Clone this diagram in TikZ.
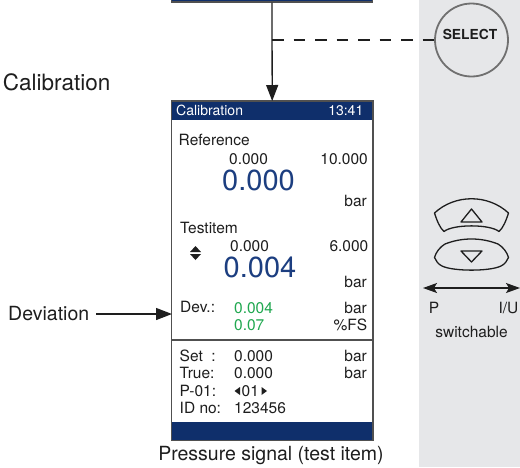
\documentclass[tikz,border=0pt]{standalone}
\usepackage{fontspec}
\setmainfont{TeX Gyre Heros}
\usetikzlibrary{arrows.meta}

\definecolor{panelgray}{RGB}{230,231,233}
\definecolor{barnavy}{RGB}{15,47,107}
\definecolor{bignum}{RGB}{28,62,128}
\definecolor{devgreen}{RGB}{32,168,80}
\definecolor{framegray}{RGB}{80,80,80}
\definecolor{ink}{RGB}{30,30,30}
\definecolor{ringgray}{RGB}{112,112,112}

\newcommand\fsz[1]{\fontsize{#1}{#1}\selectfont}

\begin{document}
\begin{tikzpicture}[x=1pt,y=-1pt,
  lbl/.style={inner sep=0pt, anchor=base west, text=ink, font=\fsz{15.5}},
  lblr/.style={lbl, anchor=base east},
  bignr/.style={inner sep=0pt, anchor=base west, text=bignum, font=\fsz{29}},
  grn/.style={lbl, text=devgreen},
  caption/.style={inner sep=0pt, text=ink, font=\fsz{19.5}},
  bartext/.style={inner sep=0pt, text=white, font=\fsz{14}},
  arr/.style={line width=1.3pt, draw=ink, -{Triangle[length=16pt,width=12pt]}},
  dualarr/.style={line width=1.3pt, draw=ink, {Stealth[length=14pt,width=10pt,inset=3pt]}-{Stealth[length=14pt,width=10pt,inset=3pt]}},
  dashline/.style={line width=1.3pt, draw=ink, dash pattern=on 11.5pt off 10pt},
  btn/.style={line width=1.3pt, draw=ink, line join=round},
]
\useasboundingbox (0,0) rectangle (520,467);
\fill[white] (0,0) rectangle (520,467);

% key panel on the right
\fill[panelgray] (419,0) rectangle (520,467);

% previous screen (bottom edge only)
\node[draw=framegray, line width=1.5pt, fill=barnavy, minimum width=201pt,
      minimum height=12pt, inner sep=0pt, anchor=south] (prev) at (272,2.5) {};

% calibration screen
\node[fill=white, minimum width=201pt, minimum height=339pt, inner sep=0pt,
      anchor=north west] (scr) at (171.5,101) {};
\fill[barnavy] (scr.north west) rectangle (372.5,120);
\fill[barnavy] (171.5,421.5) rectangle (scr.south east);
\draw[framegray, line width=1.5pt] (171.5,340) -- (372.5,340);
\draw[framegray, line width=1.5pt] (scr.north west) rectangle (scr.south east);

\node[bartext, anchor=base west] (ttl) at (176,115.3) {Calibration};
\node[bartext, anchor=base east] (clk) at (363.5,115.3) {13:41};

% reference channel
\node[lbl] (refl) at (178.5,145.5) {Reference};
\node[lbl] (refmin) at (229,164.3) {0.000};
\node[lblr] (refmax) at (368,164.3) {10.000};
\node[bignr] (refval) at (222,190) {0.000};
\node[lblr] (refunit) at (367,206) {bar};

% test item channel
\node[lbl] (testl) at (180,233.3) {Testitem};
\fill[ink] (190,252) -- (201,252) -- (195.5,246) -- cycle;
\fill[ink] (190,254) -- (201,254) -- (195.5,260) -- cycle;
\node[lbl] (testmin) at (230,251.7) {0.000};
\node[lblr] (testmax) at (368.5,251.7) {6.000};
\node[bignr] (testval) at (223.5,277.3) {0.004};
\node[lblr] (testunit) at (367,287) {bar};

% deviation
\node[lbl] (devl) at (180,312) {Dev.:};
\node[grn] (devabs) at (234,313) {0.004};
\node[lblr] (devunit) at (367,313) {bar};
\node[grn] (devrel) at (234,330) {0.07};
\node[lblr] (devfs) at (367.5,330) {\%FS};

% status block
\node[lbl] (setl) at (179.5,361.7) {Set\ \ :};
\node[lbl] (setv) at (234,361.7) {0.000};
\node[lblr] (setu) at (367,361.7) {bar};
\node[lbl] (truel) at (179.5,378.3) {True:};
\node[lbl] (truev) at (234,378.3) {0.000};
\node[lblr] (trueu) at (367,378.3) {bar};
\node[lbl] (pl) at (179.5,396.7) {P-01:};
\fill[ink] (234.5,391) -- (240,387) -- (240,395) -- cycle;
\node[lbl] (pv) at (241.5,396.7) {01};
\fill[ink] (267,391) -- (261.5,387) -- (261.5,395) -- cycle;
\node[lbl] (idl) at (179.5,413.3) {ID no:};
\node[lbl] (idv) at (234,413.3) {123456};

% captions
\node[caption, font=\fsz{22.5}, anchor=base east] (calcap) at (110.5,90) {Calibration};
\node[caption, anchor=base west] (devcap) at (8,320.7) {Deviation};
\node[caption, anchor=base] (sigcap) at (271,460) {Pressure signal (test item)};

% connectors
\coordinate (devtip) at (172,314);
\draw[arr, shorten <=7pt] (devcap.east |- devtip) -- (devtip);
\draw[arr] (prev.south) -- (scr.north);

% SELECT key
\node[circle, draw=ringgray, line width=1.8pt, minimum size=73pt, inner sep=0pt] (sel) at (471.5,40) {};
\node[inner sep=0pt, text=ink, font=\fsz{13.8}\bfseries] (selt) at (470,34) {SELECT};
\coordinate (junc) at (272,40);
\draw[dashline] (junc) -- (sel.west);

% up/down rocker keys
\draw[btn] (434.5,213) .. controls (455,194) and (488,194) .. (508.5,213)
  .. controls (506,221) and (503,228) .. (499,231.5)
  .. controls (490,224) and (453,224) .. (444,231.5)
  .. controls (440,228) and (437,221) .. (434.5,213) -- cycle;
\draw[btn] (461,222) -- (482,222) -- (471.5,209) -- cycle;

\draw[btn] (445,244) .. controls (462,237.3) and (481,237.3) .. (498,244)
  .. controls (503,247) and (507,252) .. (508.5,257.5)
  .. controls (507,261) and (505,264) .. (501,266)
  .. controls (490,271.5) and (453,271.5) .. (442,266)
  .. controls (438,264) and (436,261) .. (434.5,257.5)
  .. controls (436,252) and (440,247) .. (445,244) -- cycle;
\draw[btn] (461,251) -- (482,251) -- (471.5,262) -- cycle;

% P / I/U selector
\coordinate (pleft) at (423,288);
\coordinate (pright) at (520,288);
\draw[dualarr] (pleft) -- (pright);
\node[lbl, anchor=base] (pmode) at (434,313.5) {P};
\node[lbl, anchor=base] (iumode) at (508.5,313.5) {I/U};
\node[lbl, anchor=base] (sw) at (471.5,337) {switchable};
\end{tikzpicture}
\end{document}
